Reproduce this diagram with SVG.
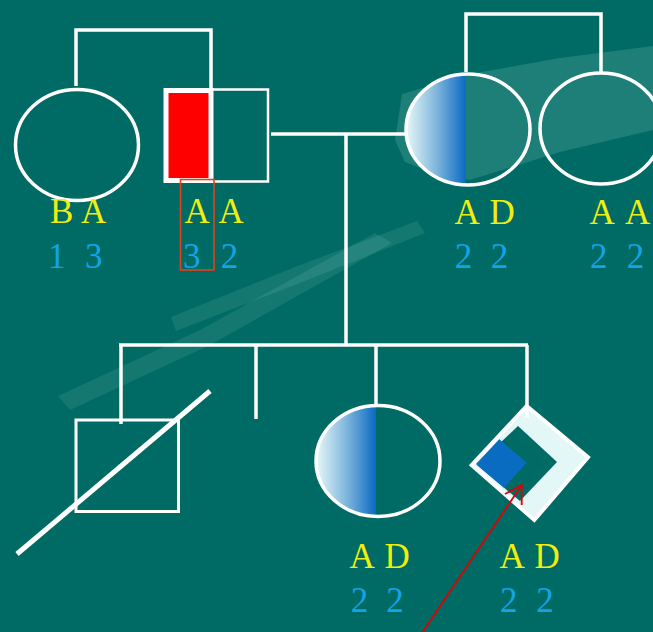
<svg xmlns="http://www.w3.org/2000/svg" width="653" height="632" viewBox="0 0 653 632">
<defs>
<linearGradient id="g1" gradientUnits="userSpaceOnUse" x1="407" y1="0" x2="466" y2="0">
<stop offset="0" stop-color="#e4f6f7"/>
<stop offset="0.5" stop-color="#7fb6dc"/>
<stop offset="1" stop-color="#0a6ac2"/>
</linearGradient>
<linearGradient id="g2" gradientUnits="userSpaceOnUse" x1="317" y1="0" x2="376" y2="0">
<stop offset="0" stop-color="#e4f6f7"/>
<stop offset="0.5" stop-color="#7fb6dc"/>
<stop offset="1" stop-color="#0a6ac2"/>
</linearGradient>
<clipPath id="c1"><rect x="400" y="60" width="65.7" height="140"/></clipPath>
<clipPath id="c2"><rect x="310" y="395" width="66" height="130"/></clipPath>
<style>
.ln{fill:none;stroke:#fff;stroke-width:3.5}
.nd{fill:none;stroke:#fff;stroke-width:3.5}
.al{font-family:"Liberation Serif","Times New Roman",serif;font-size:35px;fill:#eeee10}
.nm{font-family:"Liberation Serif","Times New Roman",serif;font-size:35px;fill:#12a4e6}
</style>
</defs>
<rect width="653" height="632" fill="#006a64"/>
<g id="bg" fill="#a6dcd4">
<polygon opacity="0.18" points="402,94 470,74 560,58 653,46 653,130 560,152 470,180 430,172 405,162 395,140"/>
<polygon opacity="0.12" points="58,396 200,330 375,233 392,243 210,345 70,410"/>
<polygon opacity="0.12" points="171,317 300,265 417,221 425,233 305,281 176,331"/>
</g>
<g id="n1">
<ellipse class="nd" cx="77" cy="145" rx="61.5" ry="55.5"/>
<text class="al" y="223"><tspan x="50">B</tspan><tspan x="81">A</tspan></text>
<text class="nm" y="268"><tspan x="48">1</tspan><tspan x="85">3</tspan></text>
</g>
<g id="n2">
<rect x="166" y="90.5" width="45" height="90" fill="#ff0000" stroke="#fff" stroke-width="5"/>
<rect x="211" y="89.5" width="57" height="92" fill="none" stroke="#fff" stroke-width="2.5"/>
<text class="al" y="223"><tspan x="184.5">A</tspan><tspan x="218.5">A</tspan></text>
<text class="nm" y="268"><tspan x="183">3</tspan><tspan x="220.7">2</tspan></text>
<rect x="180.5" y="179.5" width="33.5" height="90.5" fill="none" stroke="#e8401a" stroke-width="1.6"/>
</g>
<g id="n3">
<ellipse cx="468" cy="129.5" rx="62" ry="55.5" fill="url(#g1)" clip-path="url(#c1)"/>
<ellipse class="nd" cx="468" cy="129.5" rx="62" ry="55.5"/>
<text class="al" y="224"><tspan x="454.5">A</tspan><tspan x="489.5">D</tspan></text>
<text class="nm" y="268"><tspan x="454.7">2</tspan><tspan x="490.7">2</tspan></text>
</g>
<g id="n4">
<ellipse class="nd" cx="601" cy="128.5" rx="61" ry="55.5"/>
<text class="al" y="224"><tspan x="589.5">A</tspan><tspan x="625">A</tspan></text>
<text class="nm" y="268"><tspan x="590">2</tspan><tspan x="626.7">2</tspan></text>
</g>
<g id="n5">
<rect x="76" y="420" width="102.5" height="91.5" fill="none" stroke="#fff" stroke-width="3"/>
<line x1="17" y1="554" x2="210" y2="391" stroke="#fff" stroke-width="5"/>
</g>
<g id="n6">
<ellipse cx="378" cy="461" rx="62" ry="55.5" fill="url(#g2)" clip-path="url(#c2)"/>
<ellipse class="nd" cx="378" cy="461" rx="62" ry="55.5"/>
<text class="al" y="568"><tspan x="349.5">A</tspan><tspan x="384.5">D</tspan></text>
<text class="nm" y="612"><tspan x="350.7">2</tspan><tspan x="386.3">2</tspan></text>
</g>
<g id="n7">
<polygon points="526.7,406 588,457.3 534.3,520 471.7,465" fill="#e2f7f6" stroke="#fff" stroke-width="4"/>
<polygon points="477,465 518,426 557,462 520,501" fill="#006a64"/>
<polygon points="499.3,439.3 526.7,462.7 504,487.7 476,464" fill="#0a6cc0"/>
<text class="al" y="568"><tspan x="499.5">A</tspan><tspan x="534.5">D</tspan></text>
<text class="nm" y="612"><tspan x="500">2</tspan><tspan x="536.3">2</tspan></text>
</g>
<g id="connectors">
<polyline class="ln" points="76,86 76,30 211,30 211,88"/>
<polyline class="ln" points="466,72 466,14 601,14 601,72"/>
<line class="ln" x1="271" y1="134" x2="407" y2="134"/>
<line class="ln" x1="346" y1="134" x2="346" y2="345"/>
<line class="ln" x1="119" y1="345" x2="528" y2="345"/>
<line class="ln" x1="121" y1="345" x2="121" y2="424"/>
<line class="ln" x1="256" y1="345" x2="256" y2="419"/>
<line class="ln" x1="376" y1="345" x2="376" y2="406"/>
<line class="ln" x1="527" y1="345" x2="527" y2="418"/>
<g stroke="#e00000" stroke-width="1.8" fill="none">
<line x1="422" y1="633" x2="521.7" y2="485"/>
<polyline points="505,494 521.7,485 521.7,505"/>
</g>
</g>
</svg>
